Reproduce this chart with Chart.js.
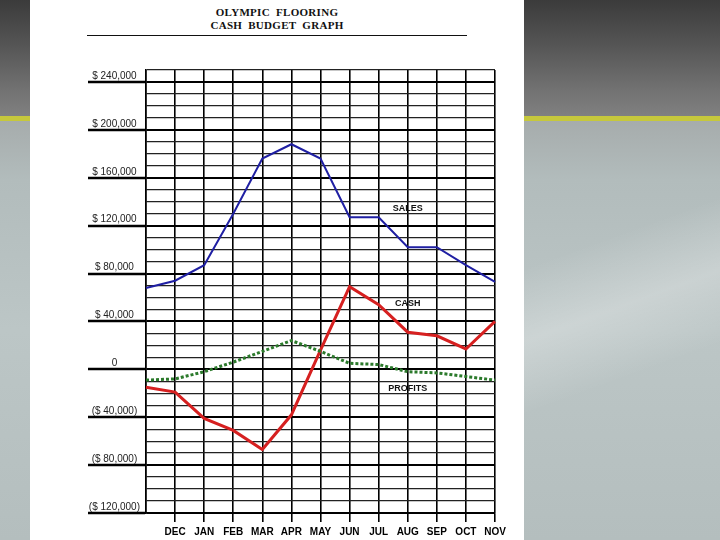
<!DOCTYPE html>
<html>
<head>
<meta charset="utf-8">
<script src="https://cdn.jsdelivr.net/npm/chart.js@4.4.1/dist/chart.umd.min.js"></script>
<style>
  body {
    margin: 0;
    width: 720px;
    height: 540px;
    overflow: hidden;
    position: relative;
    background: linear-gradient(to bottom,
      #3b3b3b 0px, #555 45px, #727272 90px, #808080 116px,
      #c6c83c 116px, #c6c83c 121px,
      #a6acac 121px, #b2bcbc 180px, #bcc6c6 330px, #b4bebe 540px);
  }
  #streak {
    position: absolute;
    left: 524px; top: 121px; width: 196px; height: 419px;
    background: linear-gradient(160deg, rgba(255,255,255,0) 30%, rgba(255,255,255,0.25) 45%, rgba(255,255,255,0) 60%);
  }
  #paper {
    position: absolute;
    left: 30px; top: 0;
    width: 494px; height: 540px;
    background: #fff;
  }
  #title {
    position: absolute;
    left: 57px; top: 6px; width: 380px;
    text-align: center;
    font: bold 11px/13px "Liberation Serif", serif;
    letter-spacing: 0.3px;
    word-spacing: 3px;
    color: #111;
  }
  #rule {
    position: absolute;
    left: 57px; top: 35px; width: 380px; height: 0;
    border-top: 1.5px solid #111;
  }
  canvas { position: absolute; left: 0; top: 0; }
</style>
</head>
<body>
<div id="streak"></div>
<div id="paper">
  <div id="title">OLYMPIC FLOORING<br>CASH BUDGET GRAPH</div>
  <div id="rule"></div>
  <canvas id="cashChart" width="494" height="540"></canvas>
</div>

<script>
// DATA
const months = ["", "DEC", "JAN", "FEB", "MAR", "APR", "MAY", "JUN", "JUL", "AUG", "SEP", "OCT", "NOV"];

const sales   = [68000, 74000, 87000, 130000, 176000, 188000, 176000, 127000, 127000, 102000, 102000, 87000, 73000];
const cash    = [-15000, -19000, -41000, -51000, -67000, -38000, 16000, 69000, 54000, 31000, 28000, 17000, 40000];
const profits = [-9000, -8000, -2000, 6000, 15000, 24000, 15000, 5000, 4000, -2000, -3000, -6000, -9000];

// y tick labels (every $40,000)
const yLabels = {
  240000: "$ 240,000",
  200000: "$ 200,000",
  160000: "$ 160,000",
  120000: "$ 120,000",
  80000: "$ 80,000",
  40000: "$ 40,000",
  0: "0",
  "-40000": "($ 40,000)",
  "-80000": "($ 80,000)",
  "-120000": "($ 120,000)"
};

// series name labels placed in the plot (month index, value)
const seriesTags = [
  { text: "SALES", month: 9, value: 134500 },
  { text: "CASH", month: 9, value: 55000 },
  { text: "PROFITS", month: 9, value: -16000 }
];

// HELPERS
function isMajor(v) {
  return v % 40000 === 0 && v !== 250000;
}

// draws SALES / CASH / PROFITS names inside the plot
const seriesTagPlugin = {
  id: "seriesTags",
  afterDatasetsDraw(chart) {
    const { ctx, scales: { x, y } } = chart;
    ctx.save();
    ctx.font = "bold 9px 'Liberation Sans', Arial, sans-serif";
    ctx.fillStyle = "#111";
    ctx.textAlign = "center";
    ctx.textBaseline = "middle";
    seriesTags.forEach(t => {
      ctx.fillText(t.text, x.getPixelForValue(t.month), y.getPixelForValue(t.value));
    });
    ctx.restore();
  }
};

// CHART
const ctx = document.getElementById("cashChart").getContext("2d");

new Chart(ctx, {
  type: "line",
  data: {
    labels: months,
    datasets: [
      {
        label: "Sales",
        data: sales,
        borderColor: "#1f1fa3",
        borderWidth: 2,
        pointRadius: 0,
        tension: 0
      },
      {
        label: "Profits",
        data: profits,
        borderColor: "#2b7a2b",
        borderWidth: 3,
        borderDash: [3, 2],
        pointRadius: 0,
        tension: 0
      },
      {
        label: "Cash",
        data: cash,
        borderColor: "#d62020",
        borderWidth: 3,
        pointRadius: 0,
        tension: 0
      }
    ]
  },
  options: {
    responsive: false,
    animation: false,
    layout: {
      padding: { top: 70, right: 29, bottom: 0, left: 0 }
    },
    plugins: {
      legend: { display: false },
      tooltip: { enabled: false }
    },
    scales: {
      x: {
        offset: false,
        border: { display: true, color: "#000", width: 1.5 },
        grid: {
          color: "#000",
          lineWidth: 1.6,
          tickLength: 9,
          tickWidth: 1.6,
          tickColor: c => (c.index === 0 ? "transparent" : "#000")
        },
        ticks: {
          autoSkip: false,
          maxRotation: 0,
          padding: 4,
          color: "#000",
          font: { family: "'Liberation Sans', Arial, sans-serif", size: 10, weight: "bold" }
        },
        afterFit(scale) {
          scale.height = 27;
        }
      },
      y: {
        min: -120000,
        max: 250000,
        border: { display: true, color: "#000", width: 1.5 },
        grid: {
          color: c => (isMajor(c.tick.value) ? "#000" : "#222"),
          lineWidth: c => (isMajor(c.tick.value) ? 2 : 1.3),
          tickLength: 58,
          tickWidth: 2.5,
          tickColor: c => (isMajor(c.tick.value) ? "#000" : "transparent")
        },
        ticks: {
          stepSize: 10000,
          autoSkip: false,
          crossAlign: "center",
          padding: -52,
          labelOffset: -6,
          color: "#222",
          font: { family: "'Liberation Sans', Arial, sans-serif", size: 10 },
          callback: v => (isMajor(v) ? yLabels[v] : "")
        },
        afterFit(scale) {
          scale.width = 116;
        }
      }
    }
  },
  plugins: [seriesTagPlugin]
});
</script>
</body>
</html>
